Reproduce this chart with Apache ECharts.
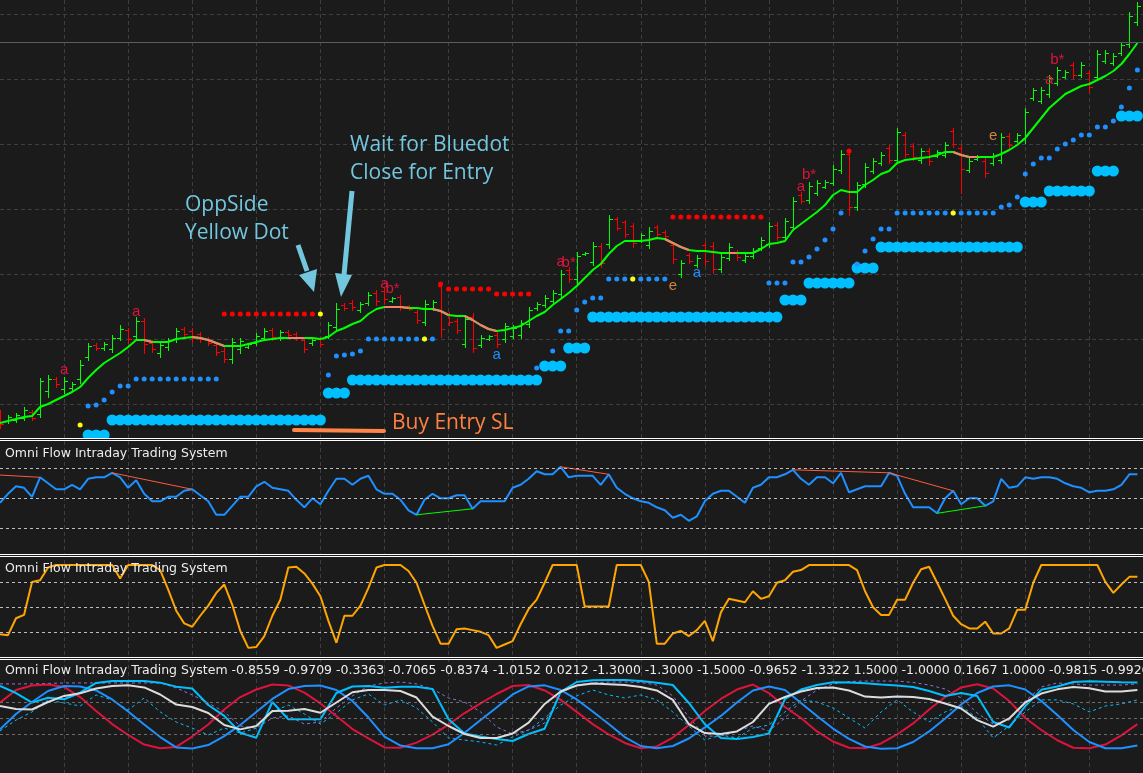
<!DOCTYPE html>
<html lang="en">
<head>
  <meta charset="UTF-8">
  <title>Omni Flow Intraday Trading System</title>
  <style>
    body { margin: 0; padding: 0; background: #1b1b1b; }
    #main { width: 1143px; height: 773px; }
  </style>
</head>
<body>
  <div id="main"></div>
</body>
</html>
<script src="https://cdn.jsdelivr.net/npm/echarts@6/dist/echarts.min.js"></script>
<script>
(function() {
  // price bars, one per column (bar index = position on the time axis)
  var barOpen = [
    57,48,49,51,57,55,78,90,80,81, 90,112,124,121,120,131,139,133,148,126,
    116,122,130,140,138,135,130,124,118,110, 120,122,126,131,139,131,137,135,129,126,
    130,133,142,164,166,159,166,176,178,168, 172,163,157,147,160,183,155,148,125,152,
    124,130,134,130,133,134,145,161,164,168, 175,199,190,215,207,223,225,250,247,243,
    229,224,242,237,224,195,214,204,224,223, 200,211,217,209,213,221,225,244,232,242,
    274,269,276,282,286,299,315,262,285,298, 306,321,309,334,323,309,318,313,314,338,
    321,299,310,308,306,309,333,328,330,371, 368,375,386,392,404,394,396,392,408,406,
    416,425,447
  ]
  var barHigh = [
    59,54,56,62,59,91,94,92,92,87, 109,126,126,127,134,144,141,152,151,129,
    127,131,141,142,141,137,132,126,122,131, 131,126,136,141,141,139,139,137,131,131,
    132,147,166,166,169,167,177,179,181,172, 174,164,159,169,169,187,157,151,154,156,
    134,134,137,146,144,149,162,167,174,179, 199,202,217,217,227,226,254,252,249,246,
    236,242,244,239,227,209,216,214,227,227, 216,226,219,216,221,232,247,247,251,272,
    277,287,289,289,304,319,319,287,306,311, 317,324,341,337,326,321,321,319,327,341,
    324,311,314,311,316,336,336,336,361,381, 382,394,402,399,407,407,399,419,419,416,
    427,457,467
  ]
  var barLow = [
    41,46,47,49,49,52,72,82,76,79, 86,109,119,119,117,129,126,130,116,117,
    112,119,127,132,127,127,124,114,107,106, 116,121,124,129,129,129,132,129,117,124,
    122,131,139,159,159,157,164,164,166,167, 159,159,146,144,159,132,144,136,122,117,
    122,129,122,127,131,131,142,159,162,166, 172,187,186,214,204,202,221,239,232,222,
    227,221,232,231,206,192,206,202,204,196, 197,209,209,207,211,219,222,229,229,239,
    266,266,274,281,284,296,254,259,282,296, 304,306,306,312,309,306,304,312,312,322,
    276,297,309,292,304,306,321,327,326,369, 366,372,384,391,391,392,377,389,406,404,
    414,422,444
  ]
  var barClose = [
    45,52,54,59,51,88,90,85,88,85, 104,123,121,125,131,140,130,148,125,120,
    124,129,138,135,131,130,126,117,110,127, 128,125,133,138,132,137,134,131,120,129,
    125,144,160,161,162,165,174,168,170,171, 163,160,149,165,167,140,147,139,150,121,
    131,133,125,143,141,146,159,165,171,176, 195,190,213,216,223,206,250,241,235,226,
    234,238,235,233,210,206,208,211,208,200, 212,222,212,213,218,229,243,232,248,268,
    268,283,286,287,300,315,262,284,302,308, 314,309,337,315,312,318,308,317,324,325,
    300,308,313,296,313,332,324,334,357,379, 379,391,399,397,394,404,382,415,416,413,
    424,453,463
  ]

  // trend line and the bar ranges where it turns down
  var trendLine = [
    46,48,50,52,53,62,65,69,73,77, 82,91,99,106,111,116,122,129,129,127,
    127,127,130,131,132,131,129,126,123,123, 123,125,127,129,130,131,131,131,131,131,
    130,132,138,141,145,148,155,160,162,162, 162,161,161,160,160,158,154,153,153,149,
    144,140,138,139,141,143,148,153,157,164, 170,176,183,191,199,205,215,223,228,228,
    228,229,231,230,226,222,219,218,218,217, 216,216,216,216,216,220,225,226,228,239,
    245,251,257,264,274,279,277,277,284,289, 295,298,306,309,310,311,312,314,317,317,
    314,312,312,312,312,315,319,324,331,341, 351,361,368,375,379,383,385,389,393,398,
    405,415,426
  ]
  var trendDownRuns = [[18,19],[24,28],[36,38],[48,51],[54,56],[58,62],[83,86],[91,92],[119,122]]

  // dot buffers as [fromBar, toBar, level]
  var resistanceRuns = [[28,39,155],[55,55,185],[56,61,180],[62,66,175],[84,95,252],[106,106,318]]
  var supportRuns = [
    [11,11,63],[12,12,64],[13,13,69],[14,14,77],[15,16,83],[17,27,90],
    [41,41,94],[42,42,113],[43,43,114],[44,44,115],[45,45,118],[46,54,130],
    [67,67,101],[69,69,118],[70,71,138],[72,72,159],[73,73,167],[74,75,171],[76,83,190],
    [96,98,186],[99,100,207],[101,101,212],[102,102,220],[103,103,229],[104,104,240],[105,105,256],
    [107,107,205],[108,108,218],[109,109,230],[110,111,240],[112,124,256],
    [125,125,262],[126,126,264],[127,127,272],[128,128,295],[129,129,305],[130,131,311],
    [132,132,320],[133,133,325],[134,134,329],[135,136,334],[137,138,342],[139,139,348],
    [140,140,362],[141,141,381],[142,142,399]
  ]
  var stopRuns = [
    [11,13,34],[14,40,49],[41,43,76],[44,67,89],[68,70,103],[71,73,121],[74,97,152],
    [98,100,169],[101,106,186],[107,109,201],[110,127,222],[128,130,267],[131,136,278],
    [137,139,298],[140,142,353]
  ]
  var signalDots = [[10,44],[40,155],[53,130],[79,190],[119,256]]
  var bidLevel = 427

  // [bar, level, text, kind]
  var markerLabels = [
    [8,99,'a','sell'],[17,157,'a','sell'],[48,185,'a','sell'],[49,180,'b*','sell'],
    [70,207,'a','sell'],[71,206,'b*','sell'],[62,114,'a','buy'],[87,196,'a','buy'],
    [84,183,'e','exit'],[100,282,'a','sell'],[101,294,'b*','sell'],[124,333,'e','exit'],
    [131,389,'a','sell'],[132,409,'b*','sell']
  ]

  // sub window 1
  var flowOsc = [
    47,53,58,57,51,64,60,56,56,59, 56,63,64,64,67,64,57,62,53,48,
    48,51,51,55,56,52,48,39,39,45, 51,51,58,61,57,56,55,49,44,50,
    46,55,63,63,59,63,65,56,53,53, 49,42,39,49,53,50,50,52,52,43,
    48,48,48,48,57,59,63,68,66,66, 71,64,65,65,65,59,66,57,53,50,
    48,47,44,42,37,39,35,38,48,53, 55,55,51,47,57,59,64,64,66,69,
    63,59,64,64,60,67,54,56,58,58, 58,67,65,53,44,44,44,40,50,55,
    46,50,50,45,48,63,57,58,64,63, 64,64,63,60,58,57,54,55,55,56,
    59,66,66
  ]
  var flowLevels = [70, 50, 30]
  var flowDivBear = [[0,65.5,5,64],[14,67,24,56],[70,71,76,66],[99,69,111,67],[111,67,119,55]]
  var flowDivBull = [[52,39,59,43],[117,40,123,45]]

  // sub window 2
  var stochLine = [
    18,17,37,41,80,82,97,100,100,100, 100,100,100,100,100,84,100,100,100,100,
    94,71,46,31,27,40,52,67,77,53, 22,2,3,16,40,59,97,98,90,78,
    63,34,8,40,40,52,73,97,100,100, 100,93,79,53,28,7,7,24,25,23,
    21,17,2,6,10,30,48,59,79,100, 100,100,100,51,51,51,51,100,100,100,
    100,80,7,7,19,22,16,23,34,10, 44,60,58,56,69,60,63,79,82,92,
    94,100,100,100,100,100,100,94,69,50, 41,41,59,59,79,95,98,79,60,40,
    30,25,25,33,19,19,25,47,47,79, 100,100,100,100,100,100,100,100,80,67,
    77,86,86
  ]
  var stochLevels = [80, 50, 20]

  // sub window 3, read every second bar
  var cycleRed = [
    0.96,1.75,2.03,2.09,1.94,1.31,0.44,-0.38,-1.06,-1.66, -1.89,-1.81,-1.16,-0.41,0.53,1.31,1.78,2.09,2.03,1.59,
    0.91,0.13,-0.69,-1.28,-1.84,-1.86,-1.54,-1.04,-0.41,0.31, 0.91,1.5,2.0,2.06,1.72,1.13,0.38,-0.38,-1.03,-1.56,
    -1.89,-1.78,-1.22,-0.44,0.44,1.19,1.78,2.09,1.56,0.69, 0,-0.84,-1.47,-1.86,-1.89,-1.59,-1.03,-0.34,0.53,1.31,
    1.91,2.11,1.84,1.06,0,-0.75,-1.39,-1.86,-1.89,-1.66, -1.09,-0.38
  ]
  var cycleBlue = [
    -0.71,0.25,1.0,1.69,2.0,1.97,1.72,1.16,0.41,-0.41, -1.19,-1.84,-1.91,-1.69,-1.13,-0.44,0.38,1.19,1.81,2.0,
    2.03,1.75,1.06,0.03,-1.16,-1.72,-1.89,-1.89,-1.64,-0.92, -0.13,0.66,1.47,1.97,2.04,1.75,1.16,0.41,-0.38,-1.19,
    -1.75,-1.89,-1.75,-1.28,-0.59,0.13,0.97,1.72,1.97,1.75, 0.94,0.13,-0.66,-1.31,-1.78,-1.92,-1.89,-1.5,-0.84,-0.03,
    0.84,1.56,1.97,2.04,1.78,1.06,0.19,-0.75,-1.5,-1.89, -1.89,-1.72
  ]
  var cycleFast = [
    2.0,1.56,0.96,1.27,1.17,1.58,2.19,2.31,2.31,2.31, 2.21,1.96,1.84,0.81,0.13,-0.92,-1.23,1.0,-0.08,-0.08,
    -0.08,1.56,1.97,2.0,1.89,1.96,1.96,1.81,-0.08,-0.97, -1.16,-1.31,-1.44,-1.0,-0.67,1.63,2.25,2.36,2.38,2.38,
    2.31,2.21,2.06,0.94,-0.39,-1.25,-1.31,-1.19,-0.97,1.19, 1.78,2.06,2.23,2.22,2.17,2.09,2.03,1.94,1.69,1.38,
    1.56,1.38,-0.25,-0.59,0.75,1.76,1.97,2.25,2.29,2.27, 2.24,2.22
  ]
  var cycleSlow = [
    0.75,0.56,0.53,1.0,1.38,1.54,1.84,2.0,2.04,1.91, 1.47,0.84,0.69,0.31,-0.44,-0.71,-0.5,0.44,0.46,0.56,
    0.33,0.97,1.61,1.75,1.75,1.69,1.28,0.09,-0.5,-1.0, -1.25,-1.25,-0.97,-0.29,0.88,1.66,2.03,2.16,2.11,2.06,
    1.94,1.72,1.13,-0.39,-0.94,-1.0,-0.84,-0.25,0.88,1.31, 1.66,1.88,1.91,1.72,1.34,1.28,1.34,1.31,1.19,0.91,
    0.59,-0.13,-0.54,-0.03,0.97,1.53,1.79,1.94,1.86,1.66, 1.66,1.75
  ]
  var cycleNoise = [
    -0.81,-0.13,0.38,1.13,0.94,0.75,1.44,1.13,0.5,1.25, 0.38,-0.25,-0.63,-1.06,-0.63,-0.94,-0.63,0.38,0.81,0.25,
    -0.38,0.31,1.13,1.5,0.81,1.13,0.63,-0.25,-1.25,-1.38, -1.5,-1.69,-1.19,-0.75,0,0.81,1.38,1.75,1.44,1.25,
    1.44,1.13,0.38,-0.5,-1.38,-1.06,-1.25,-0.63,-0.44,0.38, 1.13,1.0,0.63,0,-0.63,0.38,1.13,0.38,-0.25,0.38,
    0.75,0,-1.25,-0.5,0.38,1.13,1.13,0.88,0.38,0.75, 0.88,1.13
  ]
  var cycleEnvelope = [
    2.13,2.13,2.13,2.16,2.19,2.19,2.19,2.19,2.19,2.19, 2.19,1.88,1.44,0.94,0.38,-0.5,-0.63,0,0.13,-0.38,
    -0.25,0.63,1.38,2.0,2.19,2.25,2.13,1.81,1.25,1.0, 0.38,-0.56,-1.0,-0.75,-0.31,1.56,2.06,2.19,2.25,2.25,
    2.22,2.06,1.38,0.06,-1.13,-1.13,-0.81,-0.5,-0.81,0, 1.06,1.75,2.13,2.28,2.31,2.31,2.31,2.22,2.06,1.81,
    1.25,0.31,-0.38,-0.13,1.06,1.94,2.19,2.13,2.06,2.06, 2.06,2.13
  ]
  var cycleLevels = [1, 0, -1]
  var cycleValues = ['-0.8559','-0.9709','-0.3363','-0.7065','-0.8374','-1.0152','0.0212','-1.3000','-1.3000',
    '-1.5000','-0.9652','-1.3322','1.5000','-1.0000','0.1667','1.0000','-0.9815','-0.9926']

  var indicatorName = 'Omni Flow Intraday Trading System'

  var BG = '#1b1b1b'
  var W = 1143
  var X_MAX = 142.7
  var GRID_COLOR = '#3f3f3f'

  function expandRuns(runs) {
    var pts = []
    runs.forEach(function(r) {
      for (var j = r[0]; j <= r[1]; j++) pts.push([j, r[2]])
    })
    return pts
  }

  function xAxis(gridIndex, split) {
    return {
      type: 'value', gridIndex: gridIndex, min: 0, max: X_MAX, interval: 8,
      axisLine: { show: false }, axisTick: { show: false }, axisLabel: { show: false },
      splitLine: { show: split, showMinLine: false, showMaxLine: false,
        lineStyle: { color: GRID_COLOR, type: [4, 3], width: 1 } }
    }
  }
  function yAxis(gridIndex, min, max, interval) {
    return {
      type: 'value', gridIndex: gridIndex, min: min, max: max, interval: interval,
      axisLine: { show: false }, axisTick: { show: false }, axisLabel: { show: false },
      splitLine: { show: !!interval, showMinLine: false, showMaxLine: false,
        lineStyle: { color: GRID_COLOR, type: [4, 3], width: 1 } }
    }
  }
  function levelLines(levels, color) {
    return {
      silent: true, symbol: 'none', animation: false,
      label: { show: false },
      lineStyle: { color: color, type: [3, 3], width: 1 },
      data: levels.map(function(v) { return { yAxis: v } })
    }
  }

  var bars = barOpen.map(function(o, j) { return [j, o, barHigh[j], barLow[j], barClose[j]] })
  var trendData = trendLine.map(function(v, j) { return [j, v] })
  var trendDown = trendLine.map(function(v, j) {
    var on = trendDownRuns.some(function(r) { return j >= r[0] && j <= r[1] })
    return [j, on ? v : null]
  })

  // OHLC bar: 1px stem, open tick left, close tick right
  function renderBar(params, api) {
    var j = api.value(0)
    var o = api.coord([j, api.value(1)])
    var h = api.coord([j, api.value(2)])
    var l = api.coord([j, api.value(3)])
    var c = api.coord([j, api.value(4)])
    var x = Math.round(o[0])
    var up = api.value(4) >= api.value(1)
    var fill = up ? '#00ff00' : '#ff0000'
    var top = Math.round(h[1])
    var bottom = Math.round(l[1])
    return {
      type: 'group',
      children: [
        { type: 'rect', shape: { x: x, y: top, width: 1, height: bottom - top + 1 }, style: { fill: fill } },
        { type: 'rect', shape: { x: x - 3, y: Math.round(o[1]), width: 3, height: 1 }, style: { fill: fill } },
        { type: 'rect', shape: { x: x + 1, y: Math.round(c[1]), width: 3, height: 1 }, style: { fill: fill } }
      ]
    }
  }

  var labelColors = { sell: '#dc143c', buy: '#1e90ff', exit: '#cd853f' }
  function renderLabel(params, api) {
    var p = api.coord([api.value(0), api.value(1)])
    var m = markerLabels[params.dataIndex]
    return {
      type: 'text', x: p[0], y: p[1],
      style: { text: m[2], fill: labelColors[m[3]], font: "15px 'Liberation Sans'", align: 'center', verticalAlign: 'middle' }
    }
  }

  function dots(data, size, color, z) {
    return { type: 'scatter', xAxisIndex: 1, yAxisIndex: 1, data: data, symbolSize: size, z: z,
      itemStyle: { color: color, opacity: 1 } }
  }

  var series = [
    { type: 'custom', xAxisIndex: 1, yAxisIndex: 1, renderItem: renderBar, data: bars, z: 2 },
    { type: 'line', xAxisIndex: 1, yAxisIndex: 1, data: trendData, showSymbol: false, z: 3,
      lineStyle: { color: '#00ff00', width: 2 },
      markLine: { silent: true, symbol: 'none', label: { show: false }, animation: false,
        lineStyle: { color: '#5c5c5c', type: 'solid', width: 1 }, data: [{ yAxis: bidLevel }] } },
    { type: 'line', xAxisIndex: 1, yAxisIndex: 1, data: trendDown, showSymbol: false, connectNulls: false, z: 4,
      lineStyle: { color: '#f6806e', width: 2 } },
    dots(expandRuns(stopRuns), 11, '#00bfff', 5),
    dots(expandRuns(resistanceRuns), 5, '#ff0000', 5),
    dots(expandRuns(supportRuns), 5, '#1e90ff', 5),
    dots(signalDots, 5, '#ffff00', 6),
    { type: 'custom', xAxisIndex: 1, yAxisIndex: 1, renderItem: renderLabel, z: 7,
      data: markerLabels.map(function(m) { return [m[0], m[1]] }) },

    { type: 'line', xAxisIndex: 2, yAxisIndex: 2, showSymbol: false, z: 3,
      data: flowOsc.map(function(v, j) { return [j, v] }),
      lineStyle: { color: '#1e90ff', width: 2 },
      markLine: levelLines(flowLevels, '#bcbcbc') },

    { type: 'line', xAxisIndex: 3, yAxisIndex: 3, showSymbol: false, z: 3,
      data: stochLine.map(function(v, j) { return [j, v] }),
      lineStyle: { color: '#ffa500', width: 2 },
      markLine: levelLines(stochLevels, '#bcbcbc') }
  ]

  flowDivBear.forEach(function(d) {
    series.push({ type: 'line', xAxisIndex: 2, yAxisIndex: 2, showSymbol: false, z: 4,
      data: [[d[0], d[1]], [d[2], d[3]]], lineStyle: { color: '#ff5a3c', width: 1 } })
  })
  flowDivBull.forEach(function(d) {
    series.push({ type: 'line', xAxisIndex: 2, yAxisIndex: 2, showSymbol: false, z: 4,
      data: [[d[0], d[1]], [d[2], d[3]]], lineStyle: { color: '#00ff00', width: 1 } })
  })

  function cycleSeries(values, color, width, dashed, z) {
    return {
      type: 'line', xAxisIndex: 4, yAxisIndex: 4, showSymbol: false, z: z,
      data: values.map(function(v, i) { return [i * 2, v] }),
      lineStyle: { color: color, width: width, type: dashed ? [3, 3] : 'solid' }
    }
  }
  var levelHolder = cycleSeries(cycleNoise, '#00bfff', 1, true, 2)
  levelHolder.markLine = levelLines(cycleLevels, '#6c6c6c')
  series.push(levelHolder)
  series.push(cycleSeries(cycleEnvelope, '#9370db', 1, true, 2))
  series.push(cycleSeries(cycleRed, '#dc143c', 2, false, 3))
  series.push(cycleSeries(cycleBlue, '#1e90ff', 2, false, 3))
  series.push(cycleSeries(cycleFast, '#00bfff', 2, false, 4))
  series.push(cycleSeries(cycleSlow, '#dcdcdc', 2, false, 5))

  // separators, titles, drawn notes
  var graphics = []
  ;[438, 554, 657].forEach(function(y) {
    graphics.push({ type: 'rect', z: 100, shape: { x: 0, y: y, width: W, height: 3 }, style: { fill: BG } })
    graphics.push({ type: 'rect', z: 101, shape: { x: 0, y: y, width: W, height: 1 }, style: { fill: '#ffffff' } })
    graphics.push({ type: 'rect', z: 101, shape: { x: 0, y: y + 2, width: W, height: 1 }, style: { fill: '#ffffff' } })
  })
  var titleFont = "12.5px 'DejaVu Sans'"
  graphics.push({ type: 'text', z: 102, x: 5, y: 454, style: { text: indicatorName, fill: '#ececec', font: titleFont, verticalAlign: 'middle' } })
  graphics.push({ type: 'text', z: 102, x: 5, y: 569, style: { text: indicatorName, fill: '#ececec', font: titleFont, verticalAlign: 'middle' } })
  graphics.push({ type: 'text', z: 102, x: 5, y: 671, style: { text: indicatorName + ' ' + cycleValues.join(' '), fill: '#ececec', font: titleFont, verticalAlign: 'middle' } })

  var noteBlue = '#72c6de'
  var noteFont = "21px 'Open Sans'"
  ;[['Wait for Bluedot', 350, 145], ['Close for Entry', 350, 173], ['OppSide', 185, 205], ['Yellow Dot', 185, 233]].forEach(function(t) {
    graphics.push({ type: 'text', z: 110, x: t[1], y: t[2], style: { text: t[0], fill: noteBlue, font: noteFont, verticalAlign: 'middle' } })
  })
  graphics.push({ type: 'line', z: 110, shape: { x1: 298, y1: 245, x2: 307, y2: 271 }, style: { stroke: noteBlue, lineWidth: 5 } })
  graphics.push({ type: 'polygon', z: 110, shape: { points: [[299, 275], [317, 269], [314, 292]] }, style: { fill: noteBlue } })
  graphics.push({ type: 'line', z: 110, shape: { x1: 352, y1: 191, x2: 344, y2: 275 }, style: { stroke: noteBlue, lineWidth: 5 } })
  graphics.push({ type: 'polygon', z: 110, shape: { points: [[335, 273], [352, 275], [341, 297]] }, style: { fill: noteBlue } })

  graphics.push({ type: 'line', z: 110, shape: { x1: 294, y1: 430, x2: 384, y2: 431 }, style: { stroke: '#ff8548', lineWidth: 4, lineCap: 'round' } })
  graphics.push({ type: 'text', z: 110, x: 392, y: 423, style: { text: 'Buy Entry SL', fill: '#ff8040', font: noteFont, verticalAlign: 'middle' } })

  var chart = echarts.init(document.getElementById('main'))
  chart.setOption({
    backgroundColor: BG,
    animation: false,
    grid: [
      { left: 0, top: 0, width: W, height: 773 },
      { left: 0, top: 0, width: W, height: 469 },
      { left: 0, top: 441, width: W, height: 113 },
      { left: 0, top: 557, width: W, height: 100 },
      { left: 0, top: 660, width: W, height: 113 }
    ],
    xAxis: [xAxis(0, true), xAxis(1, false), xAxis(2, false), xAxis(3, false), xAxis(4, false)],
    yAxis: [
      yAxis(0, 0, 1),
      yAxis(1, 0, 469, 65),
      yAxis(2, 12.87, 88.2),
      yAxis(3, -8.8, 109.5),
      yAxis(4, -3.4375, 3.625)
    ],
    series: series,
    graphic: graphics
  })
})()
</script>
